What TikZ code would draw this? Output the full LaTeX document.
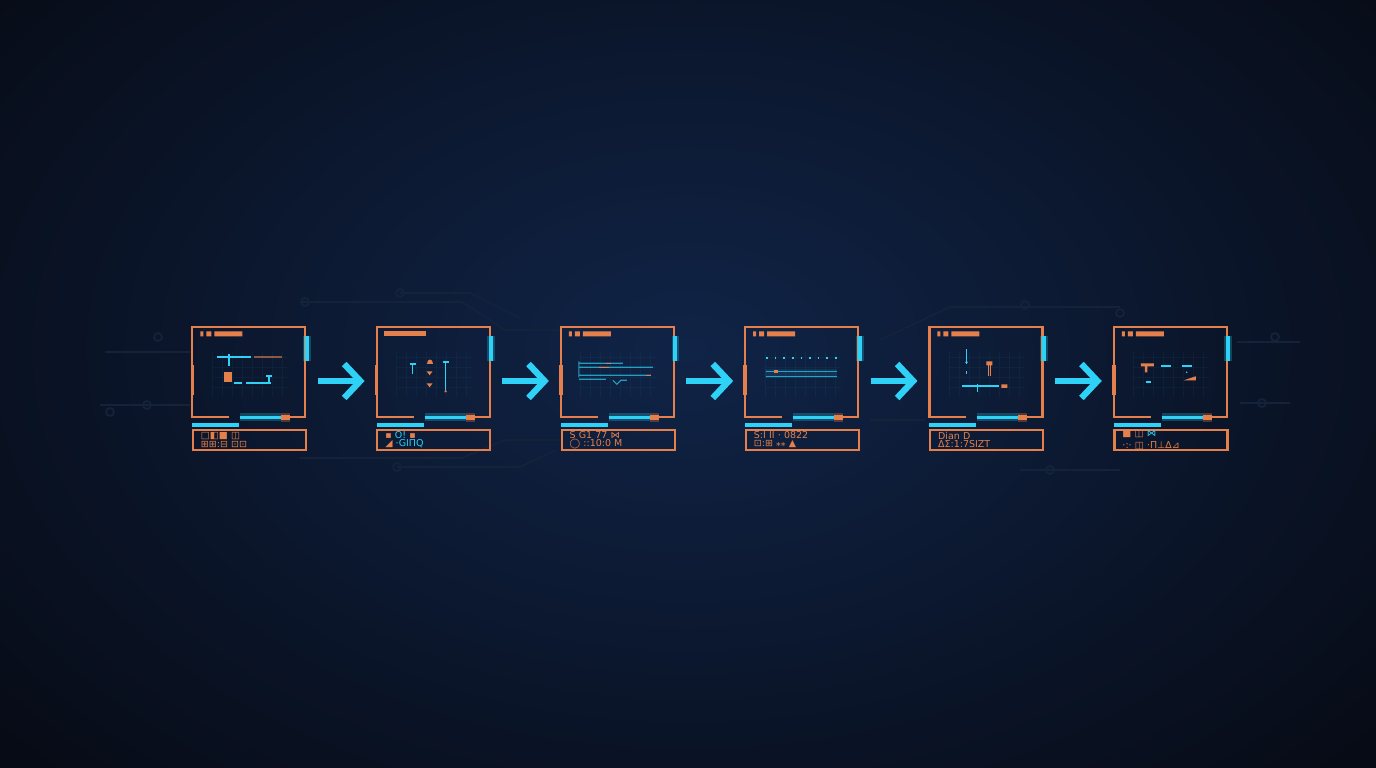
\documentclass[tikz,border=0pt]{standalone}
\usepackage{fontspec}
\usepackage{tikz}
\usetikzlibrary{arrows.meta}
\newfontfamily\glyphfont{DejaVu Sans}
\definecolor{bgdark}{HTML}{070B16}
\definecolor{bgglow}{HTML}{102447}
\definecolor{hudorange}{HTML}{E5804C}
\definecolor{hudcyan}{HTML}{2ED2F6}
\definecolor{tracecol}{HTML}{14233A}

\begin{document}
\begin{tikzpicture}[x=0.01cm,y=-0.01cm,
  panel/.style={rectangle,minimum width=1.13cm,minimum height=0.9cm,inner sep=0pt},
  tag/.style={rectangle,draw=hudorange,line width=0.6pt,minimum width=1.13cm,minimum height=0.2cm,inner sep=0pt,
    text width=0.97cm,align=left,text=hudorange,font=\glyphfont\fontsize{2.7}{2.3}\selectfont},
  cyanline/.style={draw=hudcyan,line width=0.45pt},
  orangeline/.style={draw=hudorange,line width=0.45pt}]
\tikzstyle{flow} = [draw=hudcyan,line width=1.8pt,shorten <=1.1mm,shorten >=1.2mm,-{Straight Barb[length=1.6mm,width=3.4mm]}]
\tikzstyle{trace} = [draw=tracecol,line width=0.5pt]
\tikzstyle{glow} = [preaction={draw=hudcyan,opacity=0.25,line width=2.2pt}]

% background
\useasboundingbox (0,0) rectangle (1376,768);
\fill[bgdark] (0,0) rectangle (1376,768);
\shade[inner color=bgglow,outer color=bgdark] (-220,-250) rectangle (1596,950);

% faint circuit traces
\path[trace] (105,352) -- (190,352) (100,405) -- (190,405) (300,302) -- (462,302) -- (505,330) -- (560,330)
  (400,293) -- (470,293) -- (520,318) (300,458) -- (462,458) -- (505,440) -- (560,440)
  (397,467) -- (520,467) -- (556,450) (880,340) -- (950,307) -- (1120,307)
  (1020,470) -- (1120,470) (1237,342) -- (1300,342) (1240,403) -- (1290,403) (870,420) -- (925,420);
\path[trace] (158,337) circle (4) (147,405) circle (4) (110,412) circle (4) (305,302) circle (4) (400,293) circle (4)
  (397,467) circle (4) (1025,305) circle (4) (1120,313) circle (4) (1275,337) circle (4) (1262,403) circle (4) (1050,470) circle (4);

% panels and tags
\node (p1) at (249.5,373) [panel] {};
\node (p2) at (433.8,373) [panel] {};
\node (p3) at (618.1,373) [panel] {};
\node (p4) at (802.4,373) [panel] {};
\node (p5) at (986.7,373) [panel] {};
\node (p6) at (1171,373) [panel] {};

\node (t1) at (249.5,440) [tag] {□◧■ ◫\\⊞⊞:⊟ ⊡⊡};
\node (t2) at (433.8,440) [tag] {▪ \textcolor{hudcyan}{O!} ▪\\◢ \textcolor{hudcyan}{·GIΠQ}};
\node (t3) at (618.1,440) [tag] {S  G1 77  ⋈\\◯ ::10:0 M};
\node (t4) at (802.4,440) [tag] {S:I  II  · 0822\\⊡:⊞ ⁎⁎ ▲};
\node (t5) at (986.7,440) [tag] {Dian  D\\ΔΣ:1:7SIZT};
\node (t6) at (1171,440) [tag] {■ ◫ \textcolor{hudcyan}{⋈}\\·:· ◫ ·Π⊥∆⊿};

\foreach \n in {1,...,6} {
  \begin{scope}[shift={(p\n.north west)}]
    \draw[hudcyan,opacity=0.05,line width=0.3pt,step=0.1cm] (20,25) grid (95,70);
    \draw[orangeline,line width=0.6pt] (37,90) -- (0,90) -- (0,0) -- (113,0) -- (113,90) -- (98,90);
    \draw[orangeline,line width=1pt] (0,38) -- (0,68);
    \ifnum\n=2 \fill[hudorange] (7,4) rectangle (49,9);
    \else \fill[hudorange] (8,4) rectangle (11,9) (14,4) rectangle (19,9) (22,4) rectangle (50,9); \fi
    \draw[cyanline,line width=1.2pt,glow] (114.5,9) -- (114.5,34);
    \draw[cyanline,line width=0.9pt,glow] (48,90) -- (89,90);
    \draw[orangeline,line width=1.4pt,preaction={draw=hudorange,opacity=0.3,line width=2.6pt}] (89,90) -- (98,90);
    \fill[hudcyan] (0,96) rectangle (47,99.5);
  \end{scope}
}

% panel contents
\begin{scope}[shift={(p1.north west)}]
  \draw[cyanline] (25,30) -- (59,30) (37,27) -- (37,39);
  \draw[orangeline,opacity=0.6] (62,30) -- (90,30);
  \fill[hudorange] (32,45) rectangle (40,55);
  \draw[cyanline] (42,56) -- (50,56) (54,56) -- (79,56) (77,49) -- (77,56) (74,49) -- (80,49);
\end{scope}
\begin{scope}[shift={(p2.north west)}]
  \draw[cyanline] (36,37) -- (36,47) (33,37) -- (39,37) (69,34) -- (69,63) (66,35) -- (72,35);
  \fill[hudorange] (50,37) .. controls (50,31) and (56,31) .. (56,37) -- cycle;
  \fill[hudorange] (50,44) -- (56,44) -- (53,48) -- cycle (50,56) -- (56,56) -- (53,60) -- cycle;
  \fill[hudorange] (69,64) circle (1.3);
\end{scope}
\begin{scope}[shift={(p3.north west)}]
  \draw[cyanline,line width=0.3pt,opacity=0.7] (18,34) -- (18,50) (18,36) -- (62,36) (18,40) -- (92,40) (18,48) -- (90,48)
    (18,52) -- (45,52) (52,53) -- (56,57) -- (60,53) -- (66,53);
  \draw[orangeline,line width=0.4pt] (38,40) -- (48,40) (85,48) -- (90,48) (45,36) -- (50,36);
\end{scope}
\begin{scope}[shift={(p4.north west)}]
  \fill[hudcyan,opacity=0.1] (20,42) rectangle (92,51);
  \draw[cyanline,dotted] (21,31) -- (92,31);
  \draw[cyanline,line width=0.3pt,opacity=0.7] (21,44) -- (92,44) (21,49) -- (92,49);
  \fill[hudorange] (29,43) rectangle (33,45.5);
\end{scope}
\begin{scope}[shift={(p5.north west)}]
  \draw[cyanline] (37,22) -- (37,37) (37,44) -- (37,47) (33,59) -- (70,59) (48,57) -- (48,65);
  \fill[hudcyan] (37,35) circle (1.3);
  \fill[hudorange] (57,34) rectangle (63,38) (72,57) rectangle (78,60.5);
  \draw[orangeline,line width=0.3pt] (59,38) -- (59,49) (61,38) -- (61,49);
\end{scope}
\begin{scope}[shift={(p6.north west)}]
  \fill[hudorange] (27,36) rectangle (40,39) (31,39) rectangle (33.5,45);
  \draw[cyanline,dashed] (47,39) -- (80,39);
  \fill[hudorange] (70,53) -- (82,49) -- (82,53) -- cycle;
  \draw[cyanline] (32,55) -- (37,55);
  \fill[hudcyan] (73,45) circle (0.8);
\end{scope}

% arrows
\path
    ([yshift=-0.8mm]p1.east) edge[flow] ([yshift=-0.8mm]p2.west)
    ([yshift=-0.8mm]p2.east) edge[flow] ([yshift=-0.8mm]p3.west)
    ([yshift=-0.8mm]p3.east) edge[flow] ([yshift=-0.8mm]p4.west)
    ([yshift=-0.8mm]p4.east) edge[flow] ([yshift=-0.8mm]p5.west)
    ([yshift=-0.8mm]p5.east) edge[flow] ([yshift=-0.8mm]p6.west);

\end{tikzpicture}
\end{document}
